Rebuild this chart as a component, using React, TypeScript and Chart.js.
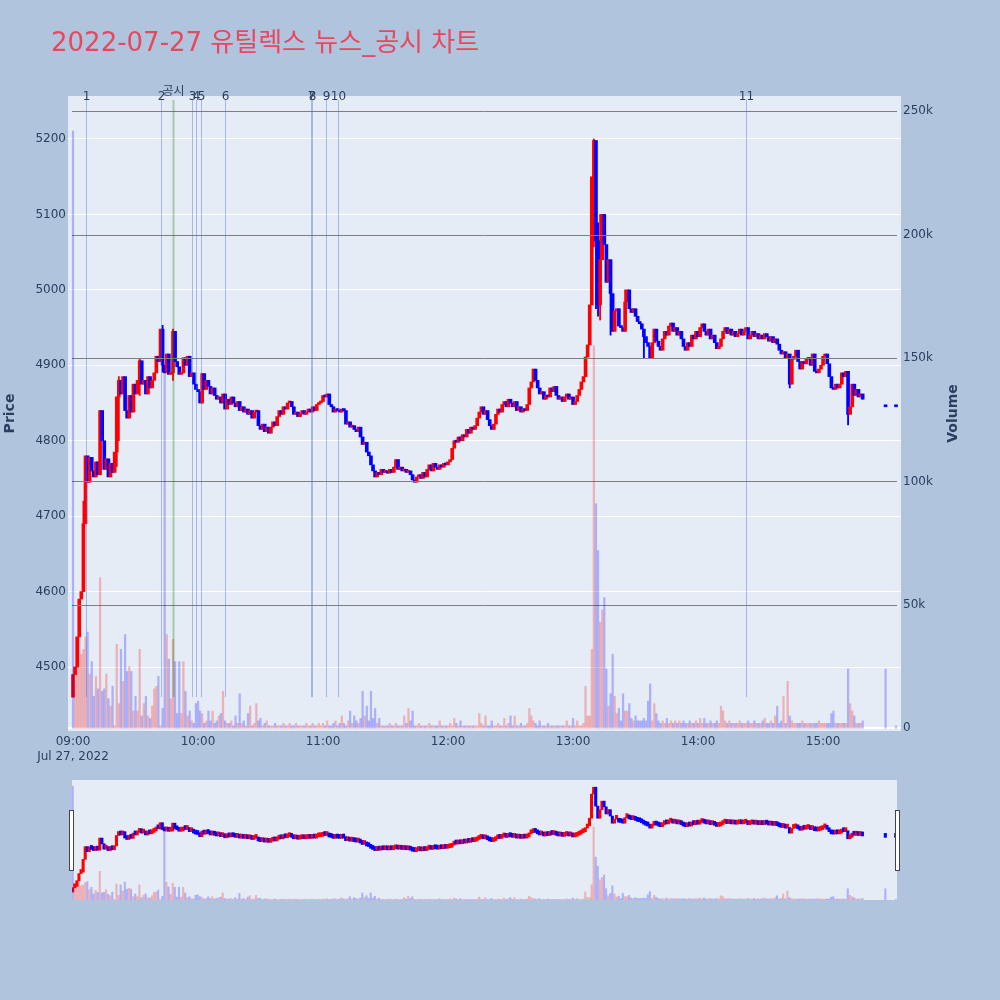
import React, { useEffect, useRef } from 'react';
import { Chart, registerables } from 'chart.js';

Chart.register(...registerables);

// ---------------- data ----------------
const TITLE = '2022-07-27 유틸렉스 뉴스_공시 차트';
const DATE_LABEL = 'Jul 27, 2022';

// one candle per minute from 09:00 (minute 0); open = previous close
const FIRST_OPEN = 4460;
const CLOSE: number[] = [
  4490, 4500, 4540, 4590, 4600, 4690, 4780, 4745, 4778, 4760,
  4752, 4772, 4755, 4840, 4800, 4762, 4776, 4752, 4770, 4758,
  4785, 4858, 4880, 4862, 4885, 4840, 4830, 4860, 4838, 4875,
  4862, 4880, 4906, 4875, 4880, 4862, 4885, 4870, 4880, 4890,
  4912, 4905, 4948, 4900, 4890, 4915, 4888, 4890, 4945, 4905,
  4898, 4888, 4890, 4910, 4900, 4912, 4885, 4890, 4875, 4868,
  4865, 4850, 4889, 4868, 4880, 4872, 4862, 4870, 4860, 4855,
  4858, 4850, 4862, 4842, 4855, 4848, 4858, 4850, 4845, 4852,
  4840, 4845, 4838, 4842, 4835, 4840, 4830, 4838, 4840, 4820,
  4815, 4822, 4812, 4818, 4810, 4818, 4825, 4820, 4832, 4840,
  4835, 4845, 4842, 4850, 4852, 4845, 4835, 4838, 4832, 4836,
  4840, 4835, 4838, 4842, 4838, 4845, 4840, 4848, 4850, 4852,
  4860, 4858, 4862, 4848, 4845, 4838, 4842, 4840, 4838, 4842,
  4840, 4822, 4825, 4818, 4820, 4815, 4812, 4818, 4805, 4795,
  4798, 4785, 4780, 4768, 4760, 4752, 4758, 4755, 4762, 4758,
  4760, 4757, 4762, 4758, 4765, 4775, 4762, 4765, 4760, 4762,
  4758, 4760, 4755, 4748, 4745, 4752, 4755, 4750, 4758, 4752,
  4762, 4768, 4760, 4770, 4765, 4762, 4768, 4765, 4770, 4768,
  4772, 4775, 4790, 4800, 4798, 4805, 4800, 4808, 4805, 4815,
  4810, 4818, 4815, 4820, 4830, 4838, 4845, 4835, 4840, 4828,
  4820, 4815, 4822, 4835, 4842, 4838, 4848, 4852, 4845, 4855,
  4850, 4845, 4852, 4840, 4845, 4838, 4842, 4840, 4848, 4870,
  4878, 4895, 4880, 4870, 4862, 4865, 4855, 4860, 4858, 4870,
  4865, 4872, 4860, 4855, 4858, 4852, 4858, 4862, 4855, 4858,
  4848, 4852, 4860, 4868, 4878, 4885, 4911, 4927, 4980, 5150,
  5198, 5065, 4980, 5040, 5100, 5060, 5010, 5040, 4995, 4945,
  4972, 4975, 4952, 4950, 4945, 4984, 5000, 4975, 4970, 4975,
  4965, 4958, 4955, 4948, 4938, 4930, 4925, 4910, 4930, 4948,
  4932, 4925, 4920, 4935, 4945, 4940, 4952, 4956, 4945, 4950,
  4940, 4945, 4935, 4925, 4920, 4930, 4925, 4940, 4935, 4945,
  4938, 4950, 4955, 4945, 4940, 4948, 4935, 4940, 4930, 4922,
  4925, 4935, 4945, 4950, 4942, 4948, 4940, 4945, 4938, 4942,
  4948, 4940, 4945, 4950, 4935, 4940, 4945, 4938, 4942, 4935,
  4940, 4935, 4942, 4938, 4932, 4938, 4930, 4935, 4928, 4920,
  4915, 4918, 4910, 4915, 4875, 4908, 4912, 4920, 4905, 4895,
  4905, 4902, 4908, 4910, 4900, 4915, 4892, 4890, 4895, 4900,
  4912, 4915, 4902, 4885, 4870, 4868, 4875, 4870, 4875, 4890,
  4885, 4892, 4835, 4845, 4875, 4860, 4868, 4858, 4862, 4855,
];

// visible high/low wicks for selected minutes
const WICK_MINUTES = [5, 13, 21, 22, 32, 43, 48, 62, 250, 251, 252, 253, 258, 265, 274, 344, 372];
const WICK_LOW = [4600, 4755, 4766, 4800, 4860, 4891, 4880, 4850, 5057, 4975, 4965, 4960, 4940, 4960, 4910, 4870, 4821];
const WICK_HIGH = [4720, 4840, 4858, 4885, 4908, 4953, 4948, 4889, 5200, 5181, 5089, 5100, 4995, 5000, 4943, 4910, 4890];

// volume per minute, in thousands of shares
const VOLUME_K: number[] = [
  242, 25, 36, 44, 30, 32, 37, 39, 22, 27,
  13, 21, 16, 61, 15, 16, 22, 12, 9, 17,
  1, 34, 10, 32, 19, 38, 23, 25, 23, 7,
  13, 7, 32, 5, 10, 13, 5, 4, 9, 16,
  17, 21, 1, 8, 145, 38, 28, 12, 36, 27,
  6, 27, 6, 27, 15, 5, 7, 3, 2, 10,
  11, 7, 6, 2, 3, 7, 3, 7, 2, 3,
  5, 6, 15, 3, 2, 2, 3, 1, 5, 2,
  14, 2, 3, 1, 6, 9, 1, 2, 10, 3,
  4, 1, 2, 3, 1, 1, 1, 2, 1, 1,
  1, 2, 1, 1, 2, 1, 1, 2, 1, 1,
  1, 1, 2, 1, 1, 2, 1, 1, 2, 1,
  2, 1, 3, 1, 1, 2, 3, 1, 2, 5,
  2, 1, 3, 7, 2, 5, 3, 2, 4, 15,
  5, 9, 3, 15, 4, 8, 2, 4, 1, 1,
  1, 1, 2, 1, 1, 2, 1, 1, 1, 5,
  2, 8, 3, 7, 1, 1, 2, 1, 1, 1,
  1, 2, 1, 1, 1, 1, 3, 1, 1, 1,
  1, 2, 1, 4, 2, 1, 3, 1, 1, 1,
  1, 1, 1, 1, 1, 6, 2, 1, 5, 1,
  1, 3, 1, 1, 2, 1, 1, 4, 1, 2,
  5, 1, 5, 1, 1, 2, 1, 1, 2, 8,
  5, 3, 2, 1, 3, 1, 1, 1, 2, 1,
  1, 1, 1, 1, 1, 1, 1, 3, 1, 1,
  4, 1, 3, 1, 1, 2, 17, 5, 5, 32,
  155, 91, 72, 43, 48, 53, 24, 9, 14, 30,
  13, 6, 8, 3, 14, 7, 7, 10, 4, 3,
  5, 3, 3, 3, 4, 3, 11, 18, 3, 10,
  6, 3, 2, 3, 2, 4, 2, 3, 2, 3,
  2, 3, 2, 3, 2, 2, 3, 2, 2, 3,
  2, 4, 2, 4, 2, 2, 3, 2, 2, 3,
  2, 9, 7, 3, 2, 3, 2, 2, 2, 2,
  3, 2, 2, 2, 3, 2, 2, 3, 2, 2,
  2, 3, 4, 2, 2, 3, 2, 5, 9, 2,
  3, 13, 2, 19, 5, 3, 2, 2, 2, 2,
  3, 2, 2, 2, 2, 2, 2, 2, 3, 2,
  2, 2, 2, 2, 6, 7, 2, 2, 2, 2,
  2, 2, 24, 10, 7, 5, 2, 2, 2, 3,
];

// closing-auction / after-hours prints
const AFTER_MINUTES = [390, 395];
const AFTER_PRICE = [4845, 4845];
const AFTER_VOLUME_K = [24, 1];

const X_TICKS = [0, 60, 120, 180, 240, 300, 360];
const X_TICK_LABELS = ['09:00', '10:00', '11:00', '12:00', '13:00', '14:00', '15:00'];
const PRICE_TICKS = [4500, 4600, 4700, 4800, 4900, 5000, 5100, 5200];
const VOLUME_TICKS = [0, 50000, 100000, 150000, 200000, 250000];
const VOLUME_TICK_LABELS = ['0', '50k', '100k', '150k', '200k', '250k'];

// news markers (minutes after 09:00)
const NEWS_MINUTES = [6, 42, 57, 59, 61.6, 72.8, 114.1, 114.7, 121.6, 127, 323];
const NEWS_LABELS = ['1', '2', '3', '4', '5', '6', '7', '8', '9', '10', '11'];
const DISCLOSURE_MINUTES = [48];
const DISCLOSURE_LABELS = ['공시'];
const MARKER_PRICE_RANGE = [4460, 5252];

// ---------------- styles ----------------
const FONT = "'DejaVu Sans', 'Noto Sans CJK KR', sans-serif";
const TEXT = '#2a3f5f';
const PAGE_BG = '#b0c4de';
const PLOT_BG = '#e5ecf6';
const UP = '#ff0000';
const DOWN = '#0000ff';
const UP_VOL = 'rgba(255,0,0,0.25)';
const DOWN_VOL = 'rgba(0,0,255,0.25)';

type Candle = { x: number; o: number; c: number };

function buildCandles(): Candle[] {
  const list: Candle[] = CLOSE.map((c, i) => ({ x: i, o: i === 0 ? FIRST_OPEN : CLOSE[i - 1], c }));
  AFTER_MINUTES.forEach((m, j) => list.push({ x: m, o: AFTER_PRICE[j], c: AFTER_PRICE[j] }));
  return list;
}

function buildVolumes(candles: Candle[]) {
  const vols = VOLUME_K.concat(AFTER_VOLUME_K);
  return vols.map((v, i) => ({
    x: candles[i].x,
    y: v * 1000,
    up: i > 0 && candles[i].c > candles[i - 1].c,
  }));
}

const mainPlugin = {
  id: 'mainDecor',
  beforeDraw(chart: any) {
    const { ctx, chartArea: a, width, height } = chart;
    ctx.save();
    ctx.fillStyle = PAGE_BG;
    ctx.fillRect(0, 0, width, height);
    ctx.fillStyle = PLOT_BG;
    ctx.fillRect(a.left, a.top, a.right - a.left, a.bottom - a.top);
    ctx.restore();
  },
  beforeDatasetDraw(chart: any, args: any) {
    if (args.meta.yAxisID !== 'y2') return;
    const { ctx, chartArea: a } = chart;
    const y2 = chart.scales.y2;
    ctx.save();
    VOLUME_TICKS.forEach((v) => {
      const py = Math.round(y2.getPixelForValue(v));
      ctx.beginPath();
      if (v === 0) {
        ctx.strokeStyle = '#ffffff';
        ctx.lineWidth = 2;
        ctx.moveTo(a.left, py);
        ctx.lineTo(a.right, py);
      } else {
        ctx.strokeStyle = '#7f7f7f';
        ctx.lineWidth = 1;
        ctx.moveTo(a.left + 4, py + 0.5);
        ctx.lineTo(a.right - 4, py + 0.5);
      }
      ctx.stroke();
    });
    ctx.restore();
  },
  afterDatasetsDraw(chart: any) {
    const { ctx } = chart;
    const xs = chart.scales.x;
    const ys = chart.scales.y;
    const top = ys.getPixelForValue(MARKER_PRICE_RANGE[1]);
    const bottom = ys.getPixelForValue(MARKER_PRICE_RANGE[0]);
    ctx.save();
    ctx.lineWidth = 1;
    ctx.font = `12px ${FONT}`;
    ctx.textAlign = 'center';
    ctx.textBaseline = 'alphabetic';
    NEWS_MINUTES.forEach((m, i) => {
      const px = Math.round(xs.getPixelForValue(m)) + 0.5;
      ctx.strokeStyle = 'rgba(65,105,225,0.4)';
      ctx.beginPath();
      ctx.moveTo(px, top);
      ctx.lineTo(px, bottom);
      ctx.stroke();
      ctx.fillStyle = TEXT;
      ctx.fillText(NEWS_LABELS[i], px, top + 0.5);
    });
    DISCLOSURE_MINUTES.forEach((m, i) => {
      const px = Math.round(xs.getPixelForValue(m)) + 0.5;
      ctx.strokeStyle = 'rgba(0,128,0,0.3)';
      ctx.lineWidth = 2;
      ctx.beginPath();
      ctx.moveTo(px, top);
      ctx.lineTo(px, bottom);
      ctx.stroke();
      ctx.fillStyle = TEXT;
      ctx.fillText(DISCLOSURE_LABELS[i], px, top - 5);
    });
    ctx.restore();
  },
  afterDraw(chart: any) {
    const { ctx, chartArea: a } = chart;
    const midY = (a.top + a.bottom) / 2;
    ctx.save();
    ctx.fillStyle = '#e8485f';
    ctx.font = `26px ${FONT}`;
    ctx.textAlign = 'left';
    ctx.textBaseline = 'alphabetic';
    ctx.fillText(TITLE, 51, 51);
    ctx.fillStyle = TEXT;
    ctx.font = `bold 14px ${FONT}`;
    ctx.textAlign = 'center';
    ctx.textBaseline = 'middle';
    ctx.translate(10, midY);
    ctx.rotate(-Math.PI / 2);
    ctx.fillText('Price', 0, 0);
    ctx.restore();
    ctx.save();
    ctx.fillStyle = TEXT;
    ctx.font = `bold 14px ${FONT}`;
    ctx.textAlign = 'center';
    ctx.textBaseline = 'middle';
    ctx.translate(953, midY);
    ctx.rotate(-Math.PI / 2);
    ctx.fillText('Volume', 0, 0);
    ctx.restore();
  },
};

const sliderPlugin = {
  id: 'sliderDecor',
  beforeDraw(chart: any) {
    const { ctx, chartArea: a, width, height } = chart;
    ctx.save();
    ctx.fillStyle = PAGE_BG;
    ctx.fillRect(0, 0, width, height);
    ctx.fillStyle = PLOT_BG;
    ctx.fillRect(a.left, a.top, a.right - a.left, a.bottom - a.top);
    ctx.restore();
  },
  afterDraw(chart: any) {
    const { ctx, chartArea: a } = chart;
    const h = (a.bottom - a.top) / 2;
    const y = a.top + h / 2;
    ctx.save();
    ctx.fillStyle = '#ffffff';
    ctx.strokeStyle = '#444444';
    ctx.lineWidth = 1;
    [a.left - 2.5, a.right - 1.5].forEach((x) => {
      ctx.fillRect(x, y, 4, h);
      ctx.strokeRect(x, y + 0.5, 4, h);
    });
    ctx.restore();
  },
};

const tickFont = { family: FONT, size: 12 };

export default function App() {
  const mainRef = useRef<HTMLCanvasElement>(null);
  const sliderRef = useRef<HTMLCanvasElement>(null);

  useEffect(() => {
    const candles = buildCandles();
    const vols = buildVolumes(candles);

    const priceData = candles.map((k) => ({ x: k.x, y: [k.o, k.c] }));
    const priceColors = candles.map((k) => (k.c > k.o ? UP : DOWN));
    const volData = vols.map((v) => ({ x: v.x, y: v.y }));
    const volColors = vols.map((v) => (v.up ? UP_VOL : DOWN_VOL));
    const wickData = WICK_MINUTES.map((m, i) => ({ x: m, y: [WICK_LOW[i], WICK_HIGH[i]] }));
    const wickColors = WICK_MINUTES.map((m) => priceColors[m]);

    const main = new Chart(mainRef.current as HTMLCanvasElement, {
      type: 'bar',
      data: {
        datasets: [
          {
            label: 'Wick',
            data: wickData as any,
            backgroundColor: wickColors,
            borderWidth: 0,
            yAxisID: 'y',
            barThickness: 1.2,
            grouped: false,
            order: 3,
          },
          {
            label: 'Price',
            data: priceData as any,
            backgroundColor: priceColors,
            borderWidth: 0,
            yAxisID: 'y',
            barThickness: 3,
            minBarLength: 2,
            grouped: false,
            order: 2,
          },
          {
            label: 'Volume',
            data: volData as any,
            backgroundColor: volColors,
            borderWidth: 0,
            yAxisID: 'y2',
            barThickness: 1.6,
            grouped: false,
            order: 1,
          },
        ],
      },
      options: {
        responsive: false,
        animation: false,
        events: [],
        layout: { padding: { left: 0, right: 0, top: 96, bottom: 0 } },
        plugins: { legend: { display: false }, tooltip: { enabled: false }, title: { display: false } },
        scales: {
          x: {
            type: 'linear',
            min: -2.4,
            max: 397.4,
            offset: false,
            grid: { display: false, drawTicks: false },
            border: { display: false },
            afterBuildTicks: (s: any) => {
              s.ticks = X_TICKS.map((v) => ({ value: v }));
            },
            afterFit: (s: any) => {
              s.height = 39;
            },
            ticks: {
              autoSkip: false,
              maxRotation: 0,
              padding: 4,
              color: TEXT,
              font: tickFont,
              callback: (v: any) => {
                const i = X_TICKS.indexOf(Number(v));
                if (i < 0) return '';
                return i === 0 ? [X_TICK_LABELS[i], DATE_LABEL] : X_TICK_LABELS[i];
              },
            },
          },
          y: {
            type: 'linear',
            position: 'left',
            min: 4415.2,
            max: 5257,
            grid: { color: '#ffffff', lineWidth: 1, drawTicks: false },
            border: { display: false },
            afterBuildTicks: (s: any) => {
              s.ticks = PRICE_TICKS.map((v) => ({ value: v }));
            },
            afterFit: (s: any) => {
              s.width = 68;
            },
            ticks: { padding: 2, color: TEXT, font: tickFont, autoSkip: false, callback: (v: any) => String(v) },
          },
          y2: {
            type: 'linear',
            position: 'right',
            min: -1100,
            max: 256200,
            grid: { display: false, drawTicks: false },
            border: { display: false },
            afterBuildTicks: (s: any) => {
              s.ticks = VOLUME_TICKS.map((v) => ({ value: v }));
            },
            afterFit: (s: any) => {
              s.width = 99;
            },
            ticks: {
              padding: 2,
              color: TEXT,
              font: tickFont,
              autoSkip: false,
              callback: (v: any) => {
                const i = VOLUME_TICKS.indexOf(Number(v));
                return i < 0 ? '' : VOLUME_TICK_LABELS[i];
              },
            },
          },
        },
      } as any,
      plugins: [mainPlugin],
    });

    const slider = new Chart(sliderRef.current as HTMLCanvasElement, {
      type: 'bar',
      data: {
        datasets: [
          {
            label: 'Price',
            data: priceData as any,
            backgroundColor: priceColors,
            borderWidth: 0,
            yAxisID: 'y',
            barThickness: 2.4,
            minBarLength: 4,
            grouped: false,
            order: 2,
          },
          {
            label: 'Volume',
            data: volData as any,
            backgroundColor: volColors,
            borderWidth: 0,
            yAxisID: 'y2',
            barThickness: 1.4,
            grouped: false,
            order: 1,
          },
        ],
      },
      options: {
        responsive: false,
        animation: false,
        events: [],
        layout: { padding: { left: 72, right: 103, top: 10, bottom: 10 } },
        plugins: { legend: { display: false }, tooltip: { enabled: false } },
        scales: {
          x: { type: 'linear', min: -0.34, max: 395.6, offset: false, display: false },
          y: { type: 'linear', min: 4404, max: 5249, display: false },
          y2: { type: 'linear', min: 0, max: 255000, display: false },
        },
      } as any,
      plugins: [sliderPlugin],
    });

    return () => {
      main.destroy();
      slider.destroy();
    };
  }, []);

  return (
    <div style={{ position: 'absolute', left: 0, top: 0, width: 1000, height: 1000, background: PAGE_BG, overflow: 'hidden' }}>
      <canvas ref={mainRef} width={1000} height={770} style={{ position: 'absolute', left: 0, top: 0, display: 'block' }} />
      <canvas ref={sliderRef} width={1000} height={140} style={{ position: 'absolute', left: 0, top: 770, display: 'block' }} />
    </div>
  );
}
